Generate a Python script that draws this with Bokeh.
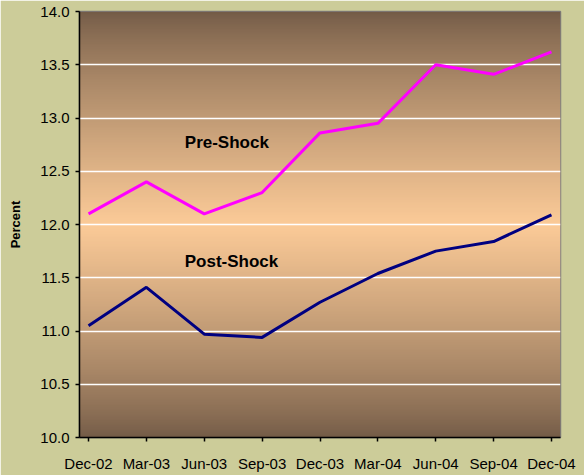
import numpy as np
from bokeh.plotting import figure
from bokeh.models import Range1d, FixedTicker, Label, PrintfTickFormatter
from bokeh.embed import file_html
from bokeh.resources import INLINE

# ---- data ----
quarters = ["Dec-02", "Mar-03", "Jun-03", "Sep-03", "Dec-03",
            "Mar-04", "Jun-04", "Sep-04", "Dec-04"]
pre_shock = [12.10, 12.40, 12.10, 12.30, 12.86, 12.95, 13.50, 13.41, 13.62]
post_shock = [11.05, 11.41, 10.97, 10.94, 11.27, 11.54, 11.75, 11.84, 12.09]
y_ticks = [10.0, 10.5, 11.0, 11.5, 12.0, 12.5, 13.0, 13.5, 14.0]
grid_ticks = [10.5, 11.0, 11.5, 12.0, 12.5, 13.0, 13.5]

xs = list(range(len(quarters)))
pad = 0.156
FONT = "Liberation Sans"
BG = "#cccc99"

p = figure(width=584, height=475, output_backend="svg", toolbar_location=None,
           x_range=Range1d(-pad, len(quarters) - 1 + pad), y_range=Range1d(10, 14),
           min_border_left=79, min_border_right=24,
           min_border_top=11, min_border_bottom=38)
p.background_fill_color = BG
p.border_fill_color = BG
p.outline_line_color = "#808080"
p.outline_line_width = 1.5

# background gradient (decoration)
N = 256
t = np.linspace(0, 1, N)
w = (1 - np.abs(2 * t - 1)) ** 0.8
dark = np.array([115, 91, 71])
light = np.array([252, 203, 152])
cols = dark[None, :] + (light - dark)[None, :] * w[:, None]
img = np.empty((N, 1), dtype=np.uint32)
view = img.view(dtype=np.uint8).reshape((N, 1, 4))
view[:, 0, 0] = cols[:, 0]
view[:, 0, 1] = cols[:, 1]
view[:, 0, 2] = cols[:, 2]
view[:, 0, 3] = 255
p.image_rgba(image=[img], x=-pad, y=10, dw=len(quarters) - 1 + 2 * pad, dh=4, level="image")

# grid
p.xgrid.visible = False
p.ygrid.ticker = FixedTicker(ticks=grid_ticks)
p.ygrid.grid_line_color = "white"
p.ygrid.grid_line_width = 1.5

# lines
p.line(xs, pre_shock, line_color="#ff00ff", line_width=3)
p.line(xs, post_shock, line_color="#000080", line_width=3)

# y axis
ya = p.yaxis[0]
ya.ticker = FixedTicker(ticks=y_ticks)
ya.formatter = PrintfTickFormatter(format="%.1f")
ya.minor_tick_line_color = None
ya.major_tick_in = 0
ya.major_tick_out = 4
ya.axis_line_color = "black"
ya.axis_line_width = 1.5
ya.major_tick_line_width = 1.5
ya.major_label_text_font = FONT
ya.major_label_text_font_size = "15px"
ya.major_label_text_color = "black"
ya.major_label_standoff = 6
ya.axis_label = "Percent"
ya.axis_label_text_font = FONT
ya.axis_label_text_font_style = "bold"
ya.axis_label_text_font_size = "13px"
ya.axis_label_text_color = "black"
ya.axis_label_standoff = 14

# x axis
xa = p.xaxis[0]
xa.ticker = FixedTicker(ticks=xs)
xa.major_label_overrides = {i: q for i, q in zip(xs, quarters)}
xa.minor_tick_line_color = None
xa.major_tick_in = 0
xa.major_tick_out = 4
xa.axis_line_color = "black"
xa.axis_line_width = 1.5
xa.major_tick_line_width = 1.5
xa.major_label_standoff = 13
xa.major_label_text_font = FONT
xa.major_label_text_font_size = "15px"
xa.major_label_text_color = "black"

# series labels
p.add_layout(Label(x=2.39, y=12.77, text="Pre-Shock", text_align="center",
                   text_baseline="middle", text_font=FONT, text_font_style="bold",
                   text_font_size="17px", text_color="black"))
p.add_layout(Label(x=2.47, y=11.65, text="Post-Shock", text_align="center",
                   text_baseline="middle", text_font=FONT, text_font_style="bold",
                   text_font_size="17px", text_color="black"))

html = file_html(p, INLINE)
html = html.replace("<body>", '<body style="margin:0;background-color:%s;">' % BG, 1)
open("out.html", "w").write(html)
